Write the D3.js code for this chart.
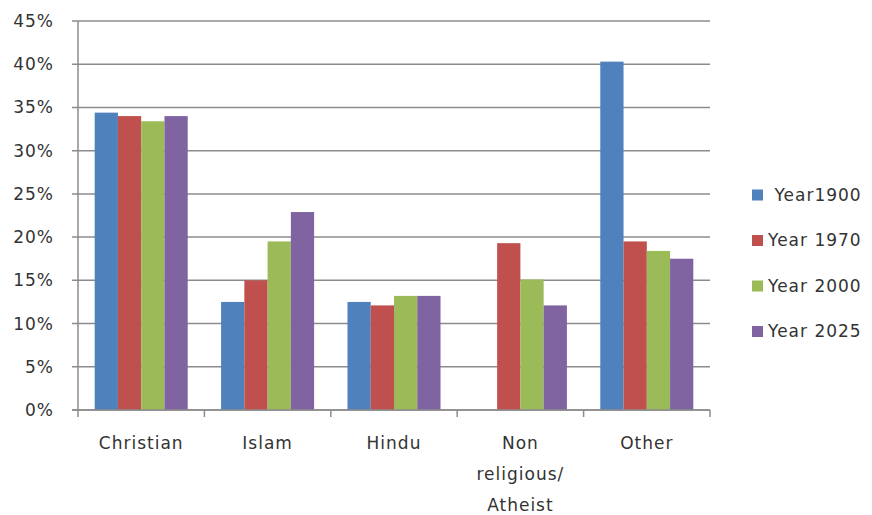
<!DOCTYPE html>
<html>
<head>
<meta charset="utf-8">
<script src="https://cdn.jsdelivr.net/npm/d3@7"></script>
<style>
  body { margin: 0; background: #fff; }
  text { font-family: "DejaVu Sans", "Open Sans", sans-serif; fill: #333; letter-spacing: 1px; }
</style>
</head>
<body>
<script>
const categories = ["Christian", "Islam", "Hindu", "Non religious/ Atheist", "Other"];
const categoryLines = [["Christian"], ["Islam"], ["Hindu"], ["Non", "religious/", "Atheist"], ["Other"]];
const seriesNames = [" Year1900", "Year 1970", "Year 2000", "Year 2025"];
const year1900 = [34.4, 12.5, 12.5, 0, 40.3];
const year1970 = [34.0, 15.0, 12.1, 19.3, 19.5];
const year2000 = [33.4, 19.5, 13.2, 15.1, 18.4];
const year2025 = [34.0, 22.9, 13.2, 12.1, 17.5];
const yTicks = [0, 5, 10, 15, 20, 25, 30, 35, 40, 45];
const colors = ["#4F81BD", "#C0504D", "#9BBB59", "#8064A2"];

const series = [year1900, year1970, year2000, year2025];

const w = 872;
const h = 515;
const plotLeft = 78, plotRight = 710, plotTop = 21, plotBottom = 410;

const svg = d3.select("body")
  .append("svg")
  .attr("width", w)
  .attr("height", h);

const x = d3.scaleBand()
  .domain(categories)
  .range([plotLeft, plotRight])
  .paddingInner(0.264)
  .paddingOuter(0.132);

const x1 = d3.scaleBand()
  .domain(d3.range(seriesNames.length))
  .range([0, x.bandwidth()]);

const y = d3.scaleLinear()
  .domain([0, 45])
  .range([plotBottom, plotTop]);

// gridlines with small left ticks
svg.append("g")
  .selectAll("line")
  .data(yTicks)
  .enter()
  .append("line")
  .attr("x1", plotLeft - 6)
  .attr("x2", plotRight)
  .attr("y1", (d) => y(d))
  .attr("y2", (d) => y(d))
  .attr("stroke", "#8c8c8c")
  .attr("stroke-width", 1.5);

svg.append("g")
  .selectAll("text")
  .data(yTicks)
  .enter()
  .append("text")
  .attr("x", plotLeft - 24)
  .attr("y", (d) => y(d))
  .attr("dy", "0.35em")
  .attr("text-anchor", "end")
  .style("font-size", "17px")
  .text((d) => `${d}%`);

// bars
const groups = svg.append("g")
  .selectAll("g")
  .data(categories)
  .enter()
  .append("g")
  .attr("transform", (d) => `translate(${x(d)},0)`);

groups.selectAll("rect")
  .data((d, i) => series.map((s, j) => ({ j: j, v: s[i] })))
  .enter()
  .append("rect")
  .attr("x", (d) => x1(d.j))
  .attr("y", (d) => y(d.v))
  .attr("width", x1.bandwidth())
  .attr("height", (d) => plotBottom - y(d.v))
  .attr("fill", (d) => colors[d.j]);

// axes lines
svg.append("line")
  .attr("x1", plotLeft).attr("x2", plotLeft)
  .attr("y1", plotTop).attr("y2", plotBottom)
  .attr("stroke", "#8c8c8c")
  .attr("stroke-width", 1.5);

svg.append("line")
  .attr("x1", plotLeft - 6).attr("x2", plotRight)
  .attr("y1", plotBottom).attr("y2", plotBottom)
  .attr("stroke", "#8c8c8c")
  .attr("stroke-width", 1.5);

const step = x.step();
svg.append("g")
  .selectAll("line")
  .data(d3.range(categories.length + 1))
  .enter()
  .append("line")
  .attr("x1", (d) => plotLeft + d * step)
  .attr("x2", (d) => plotLeft + d * step)
  .attr("y1", plotBottom)
  .attr("y2", plotBottom + 7)
  .attr("stroke", "#8c8c8c")
  .attr("stroke-width", 1.5);

// category labels
const catLabels = svg.append("g")
  .selectAll("text")
  .data(categories)
  .enter()
  .append("text")
  .attr("text-anchor", "middle")
  .attr("x", (d) => x(d) + x.bandwidth() / 2)
  .attr("y", 449)
  .style("font-size", "17px");

catLabels.selectAll("tspan")
  .data((d, i) => categoryLines[i])
  .enter()
  .append("tspan")
  .attr("x", function() { return this.parentNode.getAttribute("x"); })
  .attr("dy", (d, i) => i === 0 ? 0 : 31)
  .text((d) => d);

// legend
const legend = svg.append("g")
  .selectAll("g")
  .data(seriesNames)
  .enter()
  .append("g")
  .attr("transform", (d, i) => `translate(752,${195 + i * 45.5})`);

legend.append("rect")
  .attr("x", 0)
  .attr("y", -5.5)
  .attr("width", 11)
  .attr("height", 11)
  .attr("fill", (d, i) => colors[i]);

legend.append("text")
  .attr("x", 16)
  .attr("y", 0)
  .attr("dy", "0.35em")
  .style("font-size", "17px")
  .style("white-space", "pre")
  .text((d) => d);
</script>
</body>
</html>
